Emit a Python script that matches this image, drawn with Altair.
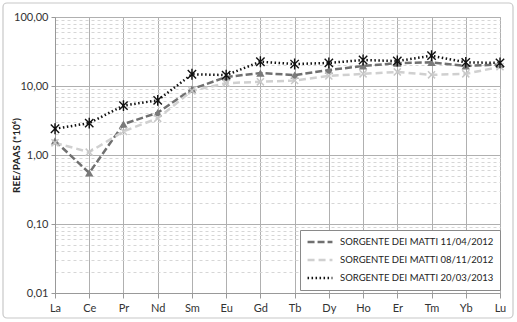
import altair as alt
import pandas as pd

categories = ["La", "Ce", "Pr", "Nd", "Sm", "Eu", "Gd", "Tb", "Dy", "Ho", "Er", "Tm", "Yb", "Lu"]
s1 = [1.6, 0.55, 2.8, 4.1, 9.0, 13.5, 15.4, 14.4, 17.0, 19.5, 21.5, 22.0, 19.5, 20.5]
s2 = [1.5, 1.1, 2.2, 3.4, 8.5, 11.0, 11.5, 12.0, 14.0, 15.0, 16.0, 14.5, 15.0, 19.0]
s3 = [2.4, 2.9, 5.2, 6.2, 14.8, 14.4, 22.5, 20.8, 21.6, 23.8, 23.0, 27.5, 22.0, 21.6]
series_names = [
    "SORGENTE DEI MATTI 11/04/2012",
    "SORGENTE DEI MATTI 08/11/2012",
    "SORGENTE DEI MATTI 20/03/2013",
]
major_ticks = [0.01, 0.1, 1, 10, 100]
minor_steps = [2, 3, 4, 5, 6, 7, 8, 9]

rows = []
for name, vals in zip(series_names, [s1, s2, s3]):
    for c, v in zip(categories, vals):
        rows.append({"Elemento": c, "Valore": v, "Serie": name})
df = pd.DataFrame(rows)

tick_values = sorted(set(major_ticks + [round(m * d, 6) for d in major_ticks[:-1] for m in minor_steps]))
is_major = "abs(log(datum.value)/LN10 - round(log(datum.value)/LN10)) < 0.001"

colors = ["#707070", "#d0d0d0", "#111111"]
dashes = [[7, 3], [7, 4], [1.5, 2.5]]
FONT = "Lato"

x = alt.X(
    "Elemento:N", sort=categories,
    scale=alt.Scale(type="point", padding=0),
    axis=alt.Axis(title=None, labelAngle=0, grid=True, gridColor="#b0b0b0",
                  domainColor="#999999", tickColor="#999999", tickSize=5,
                  labelFontSize=11, labelColor="#333333", labelPadding=4),
)
y = alt.Y(
    "Valore:Q",
    scale=alt.Scale(type="log", domain=[0.01, 100], nice=False),
    axis=alt.Axis(
        title="REE/PAAS (*10⁶)", titleFontSize=10, titleFontWeight="bold", titleColor="#222222",
        titleX=-34, titleY=138, titleAngle=-90, titleAlign="center", titleBaseline="bottom",
        values=tick_values, labelOverlap=False,
        labelExpr=f"({is_major}) ? replace(format(datum.value, '.2f'), '.', ',') : ''",
        labelFontSize=11, labelColor="#333333", labelPadding=3,
        domainColor="#999999",
        tickColor={"condition": {"test": is_major, "value": "#999999"}, "value": "rgba(0,0,0,0)"},
        tickSize=4,
        gridDash={"condition": {"test": is_major, "value": []}, "value": [3, 3]},
        gridColor={"condition": {"test": is_major, "value": "#b0b0b0"}, "value": "#d6d6d6"},
    ),
)

legend_props = dict(
    title=None, orient="none", legendX=245, legendY=213,
    fillColor="white", strokeColor="#8a8a8a", padding=6,
    labelFontSize=9.5, labelColor="#222222", labelFont=FONT, labelLimit=300,
    symbolType="stroke", symbolSize=620, symbolStrokeWidth=2.5,
    clipHeight=12, rowPadding=6, labelOffset=6,
)

lines = alt.Chart(df).mark_line(strokeWidth=2.5).encode(
    x=x, y=y,
    color=alt.Color("Serie:N", scale=alt.Scale(domain=series_names, range=colors),
                    legend=alt.Legend(**legend_props)),
    strokeDash=alt.StrokeDash("Serie:N", scale=alt.Scale(domain=series_names, range=dashes),
                              legend=alt.Legend(**legend_props)),
)

p1 = alt.Chart(df).transform_filter(alt.datum.Serie == series_names[0]).mark_point(
    shape="triangle-up", filled=True, color="#7a7a7a", size=70, opacity=1
).encode(x=x, y=y)
p2 = alt.Chart(df).transform_filter(alt.datum.Serie == series_names[1]).mark_point(
    shape="M-1,-1L1,1M-1,1L1,-1", filled=False, color="#c8c8c8", size=50, strokeWidth=1.5, opacity=1
).encode(x=x, y=y)
p3 = alt.Chart(df).transform_filter(alt.datum.Serie == series_names[2]).mark_point(
    shape="M-1,-1L1,1M-1,1L1,-1M0,-1.3L0,1.3", filled=False, color="#111111", size=70,
    strokeWidth=1.4, opacity=1
).encode(x=x, y=y)

frame = alt.Chart(alt.Data(values=[{}])).mark_rect(
    fill=None, stroke="#c8c8c8", strokeWidth=1.2, cornerRadius=4
).encode(x=alt.value(-52), x2=alt.value(458), y=alt.value(-14), y2=alt.value(301))

chart = alt.layer(frame, lines, p1, p2, p3).properties(
    width=445, height=276,
    autosize=alt.AutoSizeParams(type="none"),
    padding={"left": 55, "top": 17, "right": 17, "bottom": 29},
).configure(font=FONT).configure_view(stroke="#b8b8b8").configure_axis(labelFont=FONT, titleFont=FONT)

chart.save("out.html", embed_options={"renderer": "svg", "actions": False})
